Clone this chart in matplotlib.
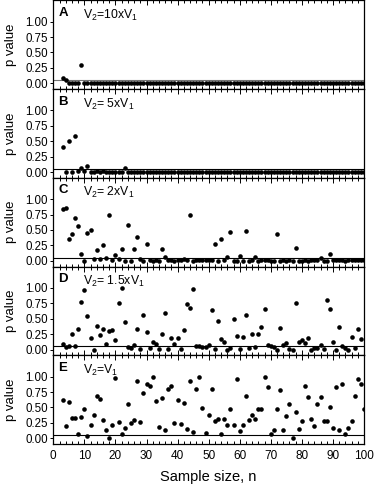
import numpy as np
import matplotlib
matplotlib.use("Agg")
import matplotlib.pyplot as plt
from matplotlib.ticker import MultipleLocator, FixedLocator

plt.rcParams['font.family'] = ['Liberation Sans', 'DejaVu Sans']
plt.rcParams['mathtext.fontset'] = 'custom'
plt.rcParams['mathtext.rm'] = 'Liberation Sans'
plt.rcParams['mathtext.it'] = 'Liberation Sans:italic'
plt.rcParams['mathtext.bf'] = 'Liberation Sans:bold'

# ---------------- data ----------------
p_A = [0.09, 0.05, 0.0, 0.0, 0.0, 0.0, 0.29] + [0.0] * 91   # n = 3..100

p_B = [0.40, 0.0, 0.51, 0.0, 0.59, 0.02, 0.065, 0.01, 0.10, 0.0,
       0.0, 0.01, 0.0, 0.02, 0.0, 0.0, 0.0, 0.0, 0.0, 0.0,
       0.065] + [0.0] * 77                                    # n = 3..100

p_C = [0.84, 0.85, 0.36, 0.44, 0.69, 0.57, 0.11, 0.0, 0.45, 0.50,
       0.03, 0.17, 0.03, 0.26, 0.05, 0.735, 0.01, 0.10, 0.03, 0.19,
       0.0, 0.58, 0.0, 0.19, 0.38, 0.03, 0.0, 0.28, 0.01, 0.0,
       0.01, 0.0, 0.19, 0.06, 0.02, 0.01, 0.0, 0.01, 0.02, 0.03,
       0.02, 0.745, 0.0, 0.01, 0.01, 0.02, 0.01, 0.02, 0.01, 0.265,
       0.0, 0.35, 0.01, 0.06, 0.46, 0.0, 0.0, 0.08, 0.0, 0.49,
       0.0, 0.01, 0.065, 0.0, 0.01, 0.01, 0.01, 0.0, 0.0, 0.44,
       0.0, 0.01, 0.0, 0.01, 0.0, 0.21, 0.0, 0.0, 0.01, 0.0,
       0.02, 0.01, 0.02, 0.05, 0.0, 0.0, 0.11, 0.01, 0.02, 0.01,
       0.01, 0.0, 0.01, 0.01, 0.02, 0.01, 0.02, 0.02]          # n = 3..100

p_D = [0.09, 0.035, 0.06, 0.245, 0.05, 0.34, 0.765, 0.97, 0.54, 0.19,
       0.0, 0.38, 0.235, 0.34, 0.095, 0.295, 0.32, 0.15, 0.76, 0.99,
       0.44, 0.035, 0.025, 0.08, 0.33, 0.01, 0.56, 0.28, 0.02, 0.13,
       0.095, 0.01, 0.26, 0.59, 0.01, 0.19, 0.095, 0.19, 0.01, 0.32,
       0.74, 0.67, 0.98, 0.06, 0.06, 0.04, 0.045, 0.08, 0.635, 0.01,
       0.47, 0.17, 0.12, 0.0, 0.025, 0.50, 0.225, 0.01, 0.21, 0.565,
       0.03, 0.26, 0.045, 0.26, 0.37, 0.66, 0.08, 0.06, 0.04, 0.0,
       0.35, 0.08, 0.11, 0.01, 0.0, 0.75, 0.12, 0.16, 0.10, 0.18,
       0.0, 0.02, 0.02, 0.08, 0.01, 0.80, 0.66, 0.13, 0.0, 0.365,
       0.06, 0.025, 0.0, 0.20, 0.02, 0.34, 0.165]               # n = 3..99

p_E = [0.62, 0.20, 0.595, 0.325, 0.325, 0.07, 0.345, 0.475, 0.03, 0.22,
       0.385, 0.69, 0.64, 0.29, 0.13, 0.0, 0.22, 0.97, 0.265, 0.065,
       0.17, 0.56, 0.245, 0.30, 0.935, 0.26, 0.74, 0.885, 0.855, 0.99,
       0.60, 0.18, 0.66, 0.135, 0.795, 0.855, 0.25, 0.615, 0.24, 0.57,
       0.155, 0.93, 0.11, 0.805, 0.995, 0.49, 0.09, 0.385, 0.795, 0.285,
       0.31, 0.065, 0.31, 0.22, 0.47, 0.22, 0.96, 0.125, 0.22, 0.69,
       0.30, 0.37, 0.31, 0.48, 0.48, 0.995, 0.83, 0.075, 0.135, 0.48,
       0.79, 0.135, 0.36, 0.56, 0.01, 0.43, 0.15, 0.285, 0.84, 0.675,
       0.32, 0.205, 0.555, 0.665, 0.275, 0.275, 0.50, 0.16, 0.83, 0.14,
       0.875, 0.065, 0.17, 0.28, 0.685, 0.96, 0.875, 0.47]      # n = 3..100

series = [p_A, p_B, p_C, p_D, p_E]
letters = ['A', 'B', 'C', 'D', 'E']
titles = [r'V$_{\rm 2}$=10xV$_{\rm 1}$', r'V$_{\rm 2}$= 5xV$_{\rm 1}$',
          r'V$_{\rm 2}$= 2xV$_{\rm 1}$', r'V$_{\rm 2}$= 1.5xV$_{\rm 1}$',
          r'V$_{\rm 2}$=V$_{\rm 1}$']
alpha_level = 0.05
yticks = [0.0, 0.25, 0.5, 0.75, 1.0]
ytick_labels = ['0.00', '0.25', '0.50', '0.75', '1.00']
xticks = [0, 10, 20, 30, 40, 50, 60, 70, 80, 90, 100]

# ---------------- figure ----------------
W, H = 374, 486
fig = plt.figure(figsize=(W / 100, H / 100), dpi=100)
left = 53.3 / W
width = (364.0 - 53.3) / W
ph = 88.75 / H
bottom0 = 1 - 444.0 / H

for i, vals in enumerate(series):
    b = bottom0 + (4 - i) * ph
    ax = fig.add_axes([left, b, width, ph])
    n = np.arange(3, 3 + len(vals))
    ax.axhline(alpha_level, color='0.45' if i == 0 else 'black', lw=0.8, zorder=1)
    ax.plot(n, vals, 'o', color='black', ms=3.3, mec='black', mew=0, zorder=3, clip_on=True)
    ax.set_xlim(0, 100)
    ax.set_ylim(-0.092, 1.346)
    ax.set_yticks(yticks)
    ax.set_yticklabels(ytick_labels)
    ax.xaxis.set_major_locator(FixedLocator(xticks))
    ax.xaxis.set_minor_locator(MultipleLocator(2))
    ax.tick_params(axis='x', which='both', direction='in', top=True, bottom=True)
    ax.tick_params(axis='x', which='major', length=3.8, width=0.7)
    ax.tick_params(axis='x', which='minor', length=2.2, width=0.7)
    ax.tick_params(axis='y', which='major', direction='out', length=2.5, width=0.7,
                   labelsize=8.3, pad=1.5)
    if i < 4:
        ax.tick_params(axis='x', labelbottom=False)
    else:
        ax.tick_params(axis='x', labelsize=8.5, pad=4)
        ax.set_xlabel('Sample size, n', fontsize=10.5, labelpad=6)
    for sp in ax.spines.values():
        sp.set_linewidth(0.9)
    ax.set_ylabel('p value', fontsize=9.5)
    ax.yaxis.set_label_coords(-0.118, 0.5)
    ax.text(0.016, 0.925, letters[i], transform=ax.transAxes, fontsize=9.5,
            fontweight='bold', ha='left', va='top')
    ax.text(0.095, 0.915, titles[i], transform=ax.transAxes, fontsize=8.8,
            ha='left', va='top')

fig.savefig('out.png', dpi=100)
